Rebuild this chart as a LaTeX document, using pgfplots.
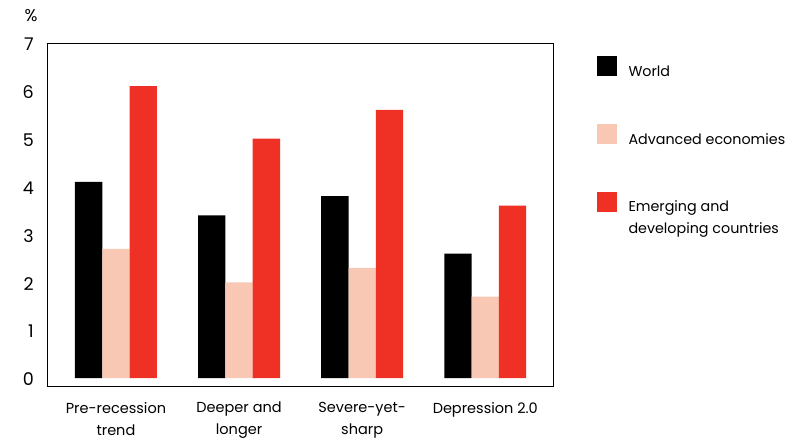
\documentclass[border=0pt]{standalone}
\usepackage{pgfplots}
\pgfplotsset{compat=1.18}
\usepackage{fontspec}
\setmainfont{Poppins}
\definecolor{wred}{HTML}{EE3124}
\definecolor{wpink}{HTML}{F9C8B4}
\begin{document}
\begin{tikzpicture}
\path[use as bounding box] (0,0) rectangle (807pt,-441pt);
\begin{axis}[
  name=ax,
  at={(47pt,-43pt)}, anchor=north west,
  width=506pt, height=343pt, scale only axis,
  ybar=0pt, bar width=27.3pt,
  xmin=-0.56, xmax=3.55, ymin=-0.167, ymax=7,
  xtick={0,1,2,3},
  xticklabels={{Pre-recession\\trend},{Deeper and\\longer},{Severe-yet-\\sharp},{Depression 2.0}},
  ytick={0,1,2,3,4,5,6,7},
  major tick length=0pt,
  axis line style={line width=0.8pt},
  /pgf/number format/assume math mode=true,
  yticklabel style={font=\fontsize{17.5}{20}\selectfont, inner sep=0pt, anchor=east, xshift=-13pt, yshift=-1.5pt},
  xticklabel style={font=\fontsize{14.5}{22}\selectfont, align=center, inner sep=0pt, anchor=north, yshift=-16pt},
  legend style={
    at={(axis description cs:1.087,0.9621)}, anchor=north west,
    draw=none, fill=none, inner sep=0pt, outer sep=0pt,
    row sep=48pt,
    nodes={inner sep=0pt, text depth=0pt},
    cells={anchor=base west},
    font=\fontsize{14.3}{22}\selectfont,
    /tikz/every odd column/.append style={column sep=12pt},
  },
  legend image code/.code={\fill[#1] (0pt,0pt) rectangle (19.5pt,20pt);},
]
\addplot[fill=black, draw=none] coordinates {(0,4.1) (1,3.4) (2,3.8) (3,2.6)};
\addplot[fill=wpink, draw=none] coordinates {(0,2.7) (1,2.0) (2,2.3) (3,1.7)};
\addplot[fill=wred, draw=none] coordinates {(0,6.1) (1,5.0) (2,5.6) (3,3.6)};
\legend{World, Advanced economies, {\begin{tabular}[t]{@{}l@{}}Emerging and\\developing countries\end{tabular}}}
\end{axis}
\node[font=\fontsize{17}{20}\selectfont] at (31pt,-16pt) {\%};
\end{tikzpicture}
\end{document}
